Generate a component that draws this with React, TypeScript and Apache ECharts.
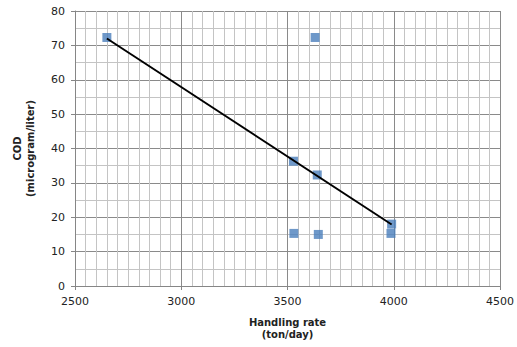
import React, { useEffect, useRef } from "react";
import * as echarts from "echarts";

const handlingRate = [2650, 3630, 3528, 3640, 3990, 3987, 3530, 3645];
const codValues = [72.3, 72.3, 36.3, 32.3, 18.0, 15.3, 15.3, 15.0];
const trendX = [2650, 3990];
const trendY = [72.0, 17.9];

const xTitle = "Handling rate\n(ton/day)";
const yTitle = "COD\n(microgram/liter)";

export default function App() {
  const ref = useRef<HTMLDivElement>(null);
  useEffect(() => {
    if (!ref.current) return;
    const chart = echarts.init(ref.current, undefined, { renderer: "svg" });
    const font = "DejaVu Sans";
    chart.setOption({
      animation: false,
      backgroundColor: "#ffffff",
      grid: { left: 75, right: 16, top: 11, bottom: 61 },
      xAxis: {
        type: "value",
        min: 2500,
        max: 4500,
        interval: 500,
        name: xTitle,
        nameLocation: "middle",
        nameGap: 30,
        nameTextStyle: { fontFamily: font, fontSize: 10, fontWeight: "bold", color: "#222", lineHeight: 12, verticalAlign: "top" },
        axisLine: { show: true, lineStyle: { color: "#868686", width: 1 } },
        axisTick: { show: true, length: 4, lineStyle: { color: "#868686" } },
        axisLabel: { fontFamily: font, fontSize: 11, color: "#222", margin: 10, formatter: (v: number) => String(v) },
        splitLine: { show: true, lineStyle: { color: "#8a8a8a", width: 1 } },
        minorTick: { show: false, splitNumber: 10 },
        minorSplitLine: { show: true, lineStyle: { color: "#c4c4c4", width: 1 } },
      },
      yAxis: {
        type: "value",
        min: 0,
        max: 80,
        interval: 10,
        name: yTitle,
        nameLocation: "middle",
        nameGap: 38,
        nameRotate: 90,
        nameTextStyle: { fontFamily: font, fontSize: 10, fontWeight: "bold", color: "#222", lineHeight: 13 },
        axisLine: { show: true, lineStyle: { color: "#868686", width: 1 } },
        axisTick: { show: true, length: 4, lineStyle: { color: "#868686" } },
        axisLabel: { fontFamily: font, fontSize: 11, color: "#222", margin: 10 },
        splitLine: { show: true, lineStyle: { color: "#8a8a8a", width: 1 } },
        minorTick: { show: false, splitNumber: 2 },
        minorSplitLine: { show: true, lineStyle: { color: "#c4c4c4", width: 1 } },
      },
      series: [
        {
          type: "scatter",
          symbol: "rect",
          symbolSize: 9,
          itemStyle: { color: "#4a7ebb" },
          data: handlingRate.map((x, i) => [x, codValues[i]]),
          z: 2,
        },
        {
          type: "line",
          showSymbol: false,
          symbol: "none",
          lineStyle: { color: "#000000", width: 2 },
          data: trendX.map((x, i) => [x, trendY[i]]),
          z: 3,
        },
      ],
    });
    return () => chart.dispose();
  }, []);
  return <div ref={ref} style={{ position: "fixed", left: 0, top: 0, width: 517, height: 347 }} />;
}
